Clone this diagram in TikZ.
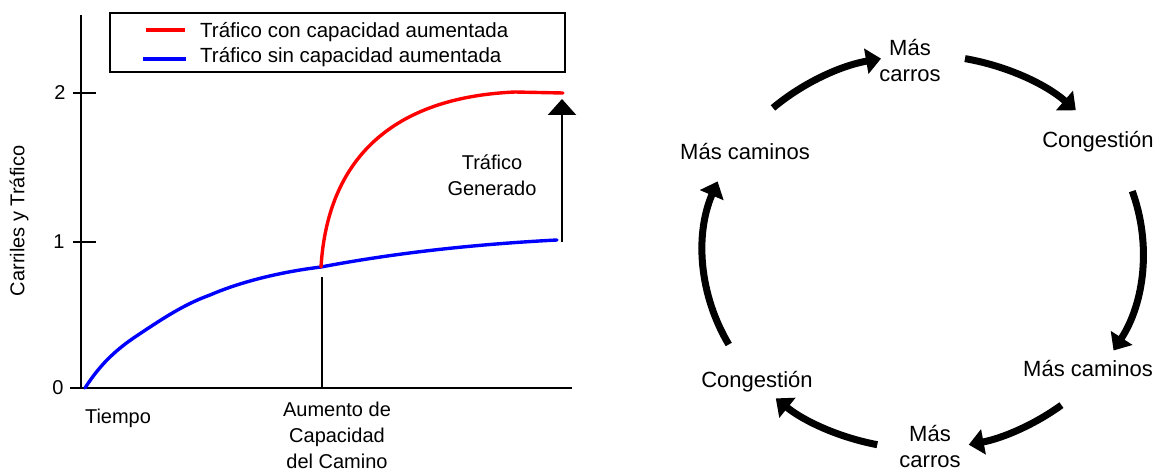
\documentclass[tikz,border=0pt]{standalone}
\usepackage{fontspec}
\setmainfont{Liberation Sans}
\usetikzlibrary{arrows.meta,calc}
\begin{document}
\begin{tikzpicture}[x=1pt,y=1pt,
  axis/.style={line width=2.6pt, black},
  cyc/.style={line width=7pt, -{Triangle[length=15pt,width=25pt]}},
  lbl/.style={font=\fontsize{20}{26}\selectfont, align=center, inner sep=0pt},
  leglbl/.style={font=\fontsize{20.5}{25}\selectfont, anchor=west, inner sep=0pt},
  big/.style={font=\fontsize{22}{26}\selectfont, align=center, inner sep=0pt},
  curve/.style={line width=3.4pt, line cap=round, line join=round}]
\useasboundingbox (0,0) rectangle (1159,472);
% ---------- chart ----------
\coordinate (ytop) at (81,457);
\coordinate (orig) at (81,84);
\coordinate (xleft) at (70,84);
\coordinate (xend) at (572,84);
\draw[axis] (ytop) -- (orig);
\draw[axis] (xleft) -- (xend);
\draw[axis] (73,379) -- (96,379);
\draw[axis] (73,230) -- (96,230);
\node[lbl] (t2) at (60,379) {2};
\node[lbl] (t1) at (59,230) {1};
\node[lbl] (t0) at (58,84) {0};
\node[lbl, rotate=90] (ylab) at (19,251) {Carriles y Tráfico};
% legend
\node[draw, line width=2.5pt, minimum width=455pt, minimum height=59pt, inner sep=0pt] (leg) at (337.5,429.5) {};
\draw[red, curve, line cap=butt] (146,442) -- (185,442);
\draw[blue, curve, line cap=butt] (143,413) -- (186,413);
\node[leglbl] (legr) at (200,440) {Tráfico con capacidad aumentada};
\node[leglbl] (legb) at (200,415) {Tráfico sin capacidad aumentada};
% curves
\draw[blue, curve] (85,84) .. controls (98,104) and (112,120) .. (138,137)
  .. controls (165,155) and (185,168) .. (210,177)
  .. controls (240,190) and (280,200) .. (321,205)
  .. controls (400,220) and (480,228) .. (557,232);
\draw[red, curve] (321,205) .. controls (328,320) and (400,375) .. (515,380) -- (563,379);
\coordinate (inc) at (322,195);
\coordinate (incbase) at (322,84);
\draw[axis] (inc) -- (incbase);
\coordinate (blueend) at (562,230);
\coordinate (redend) at (562,373);
\draw[line width=2.5pt, -{Triangle[length=16pt,width=28pt]}] (blueend) -- (redend);
\node[lbl] (gen) at (492,297) {Tráfico\\Generado};
\node[lbl] (tiempo) at (118,54) {Tiempo};
\node[lbl] (aum) at (337,37) {Aumento de\\Capacidad\\del Camino};
% ---------- cycle ----------
\node[big] (car1) at (910,411) {Más\\carros};
\node[big] (con1) at (1098,330) {Congestión};
\node[big] (mc2) at (1088,103) {Más caminos};
\node[big] (car2) at (930,25) {Más\\carros};
\node[big] (con2) at (757,90) {Congestión};
\node[big] (mc1) at (745,320) {Más caminos};
\coordinate (ctr) at (923,220);
\foreach \s/\e/\n in {133/101/a, 79/46/b, 18/-30/c, -51/-78/d, -102/-132/e, 208/159/f}{
  \coordinate (\n s) at ($(ctr)+(\s:220pt and 197pt)$);
  \draw[cyc] (\n s) arc[start angle=\s, end angle=\e, x radius=220pt, y radius=197pt];
}
\end{tikzpicture}
\end{document}
